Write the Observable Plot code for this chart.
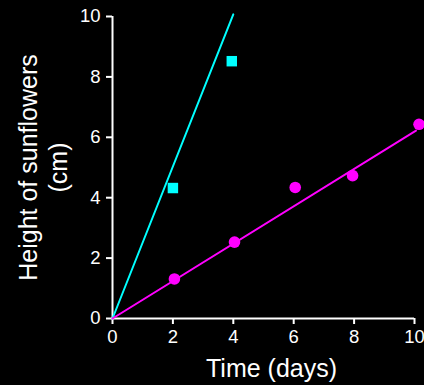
<!DOCTYPE html>
<html>
<head>
<meta charset="utf-8">
<script src="https://cdn.jsdelivr.net/npm/d3@7"></script>
<script src="https://cdn.jsdelivr.net/npm/@observablehq/plot@0.6"></script>
<style>
  html, body { margin: 0; padding: 0; background: black; }
  #chart svg g[aria-label*="tick label"],
  #chart svg g[aria-label*="tick label"] text { font-size: 18.5px !important; }
</style>
</head>
<body>
<div id="chart"></div>
<script>
// Magenta series (circles)
const magentaX = [2.05, 4.04, 6.05, 7.95, 10.15];
const magentaY = [1.31, 2.53, 4.34, 4.73, 6.43];
// Cyan series (squares)
const cyanX = [2.0, 3.95];
const cyanY = [4.32, 8.52];
// Fitted lines (start, end)
const cyanLineX = [0, 4.0];
const cyanLineY = [0, 10.07];
const magentaLineX = [0, 10.05];
const magentaLineY = [0, 6.22];
// Ticks and labels
const xTicks = [0, 2, 4, 6, 8, 10];
const yTicks = [0, 2, 4, 6, 8, 10];
const xLabel = "Time (days)";
const yLabel = "Height of sunflowers\n(cm)";

const CYAN = "#00ffff";
const MAGENTA = "#ff00ff";

const magentaPts = magentaX.map((x, i) => ({x, y: magentaY[i]}));
const cyanPts = cyanX.map((x, i) => ({x, y: cyanY[i]}));
const cyanLine = cyanLineX.map((x, i) => ({x, y: cyanLineY[i]}));
const magentaLine = magentaLineX.map((x, i) => ({x, y: magentaLineY[i]}));

const chart = Plot.plot({
  width: 424,
  height: 385,
  marginLeft: 112,
  marginRight: 10,
  marginTop: 16,
  marginBottom: 67,
  style: {background: "black", color: "white", fontFamily: "'Liberation Sans', Arial, sans-serif", fontSize: "18.5px"},
  x: {domain: [0, 10]},
  y: {domain: [0, 10]},
  marks: [
    Plot.axisX({ticks: xTicks, tickSize: 6, tickPadding: 5, strokeWidth: 2, label: null, fontSize: 18.5}),
    Plot.axisY({ticks: yTicks, tickSize: 6, tickPadding: 6, strokeWidth: 2, label: null, fontSize: 18.5}),
    Plot.ruleY([0], {x1: 0, x2: 10, stroke: "white", strokeWidth: 2}),
    Plot.ruleX([0], {y1: 0, y2: 10, stroke: "white", strokeWidth: 2}),
    Plot.line(cyanLine, {x: "x", y: "y", stroke: CYAN, strokeWidth: 2}),
    Plot.line(magentaLine, {x: "x", y: "y", stroke: MAGENTA, strokeWidth: 2}),
    Plot.dot(cyanPts, {x: "x", y: "y", symbol: "square", r: 5.9, fill: CYAN}),
    Plot.dot(magentaPts, {x: "x", y: "y", r: 5.8, fill: MAGENTA}),
    Plot.text([xLabel], {frameAnchor: "bottom", textAnchor: "middle", lineAnchor: "middle", dx: 8, dy: 50, fontSize: 25, fill: "white"}),
    Plot.text([yLabel], {frameAnchor: "left", textAnchor: "middle", lineAnchor: "middle", rotate: -90, dx: -70, fontSize: 25, lineHeight: 1.2, fill: "white"})
  ]
});
document.getElementById("chart").appendChild(chart);
</script>
</body>
</html>
